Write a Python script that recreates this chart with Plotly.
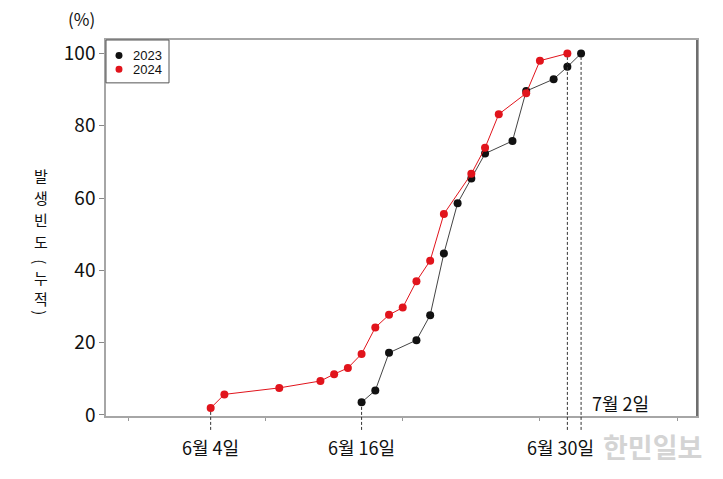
import plotly.graph_objects as go

# ---- data ----
x_2024 = [6, 7, 11, 14, 15, 16, 17, 18, 19, 20, 21, 22, 23, 25, 26, 27, 29, 30, 32]
y_2024 = [1.9, 5.7, 7.5, 9.4, 11.3, 13.0, 16.9, 24.2, 27.7, 29.7, 37.0, 42.7, 55.6,
          66.7, 73.9, 83.2, 89.0, 98.0, 100]
x_2023 = [17, 18, 19, 21, 22, 23, 24, 25, 26, 28, 29, 31, 32, 33]
y_2023 = [3.5, 6.8, 17.2, 20.7, 27.6, 44.7, 58.6, 65.4, 72.3, 75.8, 89.6, 92.9, 96.3, 100]

series_names = ["2023", "2024"]
y_ticks = [0, 20, 40, 60, 80, 100]
x_ticks = [0, 10, 20, 30, 40]
date_labels = ["6월 4일", "6월 16일", "6월 30일", "7월 2일"]
y_title_chars = ["발", "생", "빈", "도", "(", "누", "적", ")"]

X_RANGE = [-1.63, 41.45]
Y_RANGE = [-0.28, 103.73]

RED = "#e1141c"
BLACK = "#111111"
FONT = "Noto Sans CJK KR, Noto Sans, sans-serif"
LEG_FONT = "Liberation Sans, Arial, sans-serif"

fig = go.Figure()
fig.add_trace(go.Scatter(
    x=x_2023, y=y_2023, name=series_names[0], mode="lines+markers",
    line=dict(color="#444444", width=1),
    marker=dict(color=BLACK, size=8),
))
fig.add_trace(go.Scatter(
    x=x_2024, y=y_2024, name=series_names[1], mode="lines+markers",
    line=dict(color=RED, width=1),
    marker=dict(color=RED, size=8),
))


def ypaper(v):
    return (v - Y_RANGE[0]) / (Y_RANGE[1] - Y_RANGE[0])


def note(**kw):
    base = dict(showarrow=False, xanchor="center", yanchor="middle")
    base.update(kw)
    fig.add_annotation(**base)


DF = dict(family=FONT, size=18, color="#111111")

# dashed markers at start / end dates, derived from the data
marks = [
    (x_2024[0], y_2024[0], date_labels[0]),
    (x_2023[0], y_2023[0], date_labels[1]),
    (x_2024[-1], y_2024[-1], date_labels[2]),
    (x_2023[-1], y_2023[-1], date_labels[3]),
]
for i, (xv, yv, lab) in enumerate(marks):
    fig.add_shape(type="line", xref="x", yref="paper",
                  x0=xv, x1=xv, y0=-0.037, y1=ypaper(yv) - 0.01,
                  line=dict(color="#333333", width=1, dash="3px,2px"))
    if i < 3:
        note(x=xv, xref="x", y=-0.082, yref="paper", text=lab,
             xshift=-7 if i == 2 else 0, font=DF)
    else:
        note(x=xv, xref="x", y=0.035, yref="paper", text=lab,
             xanchor="left", xshift=9, font=DF)

# y-axis title: vertical writing, upright characters, rotated parentheses
TX = -0.11
TF = dict(family=FONT, size=15, color="#111111")
title_y = [0.640, 0.5817, 0.5232, 0.4648, 0.409, 0.3692, 0.3134, 0.2736]
for ch, ty in zip(y_title_chars, title_y):
    note(x=TX, xref="paper", y=ty, yref="paper", text=ch,
         textangle=90 if ch in "()" else 0, font=TF)

# unit label
note(x=-0.041, xref="paper", y=1.057, yref="paper", text="(%)",
     font=dict(family=FONT, size=17, color="#111111"))

# legend (compact box, marker-only symbols)
fig.add_shape(type="rect", xref="paper", yref="paper",
              x0=0, x1=0.1066, y0=0.886, y1=1.0,
              line=dict(color="#555555", width=1), fillcolor="white")
leg_colors = [BLACK, RED]
leg_y = [0.959, 0.922]
for name, col, ly in zip(series_names, leg_colors, leg_y):
    fig.add_shape(type="circle", xref="paper", yref="paper",
                  x0=0.022 - 0.0059, x1=0.022 + 0.0059,
                  y0=ly - 0.0093, y1=ly + 0.0093,
                  line=dict(color=col, width=0), fillcolor=col)
    note(x=0.0423, xref="paper", y=ly, yref="paper", text=name, xanchor="left",
         font=dict(family=LEG_FONT, size=13, color="#111111"))

# darker right frame edge (as in the reference)
fig.add_shape(type="line", xref="paper", yref="paper", x0=1, x1=1, y0=0, y1=1,
              line=dict(color="#6e6e6e", width=2))

# watermark
note(x=1.0, xref="paper", y=-0.082, yref="paper", text="<b>한민일보</b>",
     xshift=-45, font=dict(family=FONT, size=27, color="#d4d4d4"))

fig.update_layout(
    width=723, height=479,
    margin=dict(l=106, r=26, t=40, b=63),
    paper_bgcolor="white", plot_bgcolor="white",
    showlegend=False,
    xaxis=dict(range=X_RANGE, tickvals=x_ticks, showticklabels=False,
               ticks="outside", ticklen=3, tickcolor="#999999",
               showgrid=False, zeroline=False,
               showline=True, mirror=True, linecolor="#a6a6a6", linewidth=1.5),
    yaxis=dict(range=Y_RANGE, tickvals=y_ticks,
               ticks="outside", ticklen=5, tickcolor="#888888",
               tickfont=dict(family=FONT, size=19, color="#111111"),
               showgrid=False, zeroline=False,
               showline=True, mirror=True, linecolor="#a6a6a6", linewidth=1.5),
)

fig.write_html("out.html", config={"displayModeBar": False},
               post_script="document.body.style.margin='0';document.body.style.padding='0';")
